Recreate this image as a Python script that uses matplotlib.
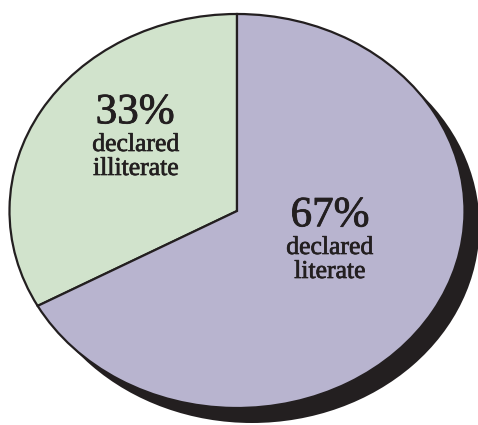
import matplotlib
matplotlib.use("Agg")
import matplotlib.pyplot as plt
from matplotlib.patches import Ellipse
import matplotlib.patheffects as pe

# Data
categories = ["declared illiterate", "declared literate"]
values = [33, 67]
pct_labels = ["33%", "67%"]
colors = ["#d1e3cc", "#b8b4cf"]

W, H = 478, 425
fig = plt.figure(figsize=(W / 100, H / 100), dpi=100)
ax = fig.add_axes([0, 0, 1, 1])

# Ellipse geometry in pixels
cx, cy = 237, 211
rx, ry = 227.5, 197.0

ax.add_patch(Ellipse((15 / rx, -15 / ry), 2, 2, facecolor="#231f20",
                     edgecolor="none", zorder=0))
ax.pie(values, colors=colors, startangle=90, counterclock=True,
       wedgeprops=dict(edgecolor="#231f20", linewidth=1.6), radius=1.0)
ax.set_aspect("auto")
ax.set_xlim((0 - cx) / rx, (W - cx) / rx)
ax.set_ylim((cy - H) / ry, (cy - 0) / ry)
ax.axis("off")

tc = "#231f20"
font = "Liberation Serif"

def ftext(px, py, s, size, sw):
    fig.text(px / W, 1 - py / H, s, ha="center", va="center", fontsize=size,
             family=font, color=tc,
             path_effects=[pe.withStroke(linewidth=sw, foreground=tc)])

# illiterate label
ftext(135, 113, pct_labels[0], 31, 0.6)
ftext(136, 145, "declared", 18.5, 0.5)
ftext(136, 169, "illiterate", 18.5, 0.5)
# literate label
ftext(330, 216, pct_labels[1], 31, 0.6)
ftext(330, 248, "declared", 18.5, 0.5)
ftext(330, 272, "literate", 18.5, 0.5)

fig.savefig("out.png", dpi=100, facecolor="white")
